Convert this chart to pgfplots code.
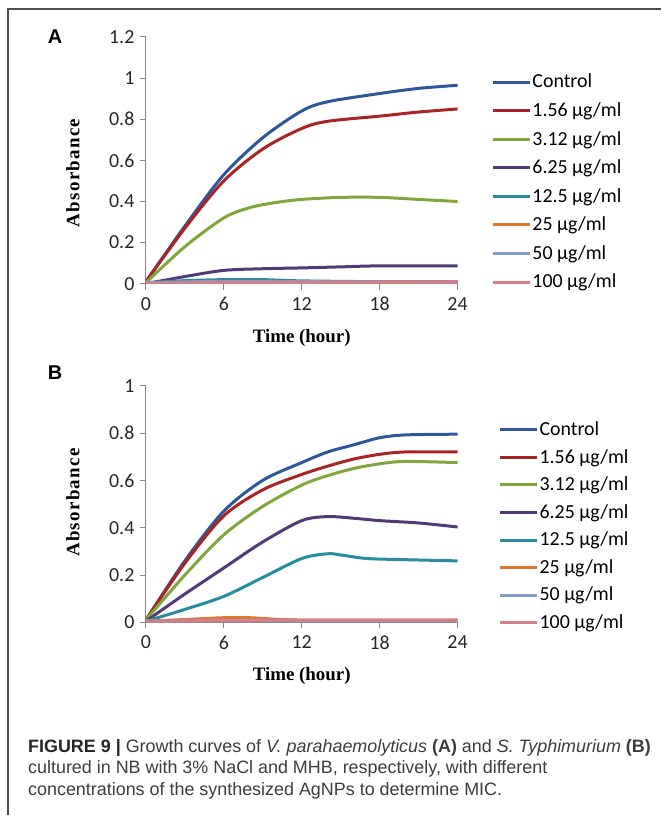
\documentclass[border=0pt]{standalone}
\usepackage{fontspec}
\setmainfont{Liberation Sans}
\newfontfamily\carlito{Carlito}
\newfontfamily\tnr{Liberation Serif}
\usepackage{pgfplots}
\pgfplotsset{compat=1.18}

\definecolor{cCtrl}{RGB}{44,87,154}
\definecolor{cA}{RGB}{170,36,38}
\definecolor{cB}{RGB}{128,166,60}
\definecolor{cC}{RGB}{80,58,120}
\definecolor{cD}{RGB}{40,140,160}
\definecolor{cE}{RGB}{228,118,40}
\definecolor{cF}{RGB}{130,155,205}
\definecolor{cG}{RGB}{215,125,135}
\definecolor{axisgray}{RGB}{134,134,134}
\definecolor{captxt}{RGB}{60,60,60}

\pgfplotsset{
  growth/.style={
    scale only axis,
    width=312bp,
    xmin=0, xmax=24, xtick={0,6,12,18,24},
    ymin=0,
    axis lines*=left,
    axis line style={draw=axisgray, line width=1bp},
    tick align=outside,
    major tick length=6bp,
    tick style={draw=axisgray, line width=1bp},
    ticklabel style={font=\carlito\fontsize{20}{22}\selectfont, text=black!85},
    xticklabel style={yshift=-4bp},
    yticklabel style={xshift=-2bp},
    /pgf/number format/assume math mode=true,
    xlabel={Time (hour)},
    ylabel={\addfontfeature{LetterSpace=7}Absorbance},
    label style={font=\tnr\bfseries\fontsize{19}{21}\selectfont},
    xlabel style={at={(axis description cs:0.5,0)}, anchor=center, yshift=-54bp},
    legend image code/.code={\draw[#1] (0bp,0bp) -- (37bp,0bp);},
    legend cell align=left,
    legend style={draw=none, fill=none, inner sep=0pt, anchor=north west,
      font=\carlito\fontsize{20}{22}\selectfont, row sep=0pt},
    every axis plot/.append style={line width=3bp, smooth, tension=0.5, no marks},
  }
}

\begin{document}
\begin{tikzpicture}
\path (0,0) rectangle (662bp,-816bp);
\draw[line width=1.5bp, black!70] (8bp,-816bp) -- (8bp,-9bp) -- (662bp,-9bp);

\node[font=\bfseries\fontsize{20}{22}\selectfont] at (55bp,-37bp) {A};
\node[font=\bfseries\fontsize{20}{22}\selectfont] at (55bp,-373bp) {B};

% panel A
\begin{axis}[growth,
  at={(146bp,-284bp)}, anchor=south west,
  height=247bp, ymax=1.2, ytick={0,0.2,...,1.2},
  ylabel style={at={(axis description cs:-0.234,0.449)}, anchor=center},
  legend style={at={(1.108,0.876)},
    nodes={inner sep=0pt, inner xsep=1bp, text height=20.2bp, text depth=8.4bp}},
]
\addplot[cCtrl] coordinates {(0,0.01) (3,0.28) (6,0.53) (9,0.71) (12,0.84) (14,0.885) (18,0.925) (21,0.95) (24,0.965)};
\addlegendentry{Control}
\addplot[cA] coordinates {(0,0.01) (3,0.27) (6,0.50) (9,0.655) (12,0.755) (14,0.79) (18,0.815) (21,0.835) (24,0.85)};
\addlegendentry{1.56 µg/ml}
\addplot[cB] coordinates {(0,0.005) (3,0.18) (6,0.32) (8,0.37) (10,0.395) (12,0.41) (15,0.42) (18,0.42) (21,0.41) (24,0.40)};
\addlegendentry{3.12 µg/ml}
\addplot[cC] coordinates {(0,0.0) (3,0.035) (6,0.065) (9,0.073) (12,0.077) (15,0.082) (18,0.087) (24,0.087)};
\addlegendentry{6.25 µg/ml}
\addplot[cD] coordinates {(0,0.005) (3,0.015) (6,0.02) (9,0.02) (12,0.014) (18,0.01) (24,0.01)};
\addlegendentry{12.5 µg/ml}
\addplot[cE] coordinates {(0,0.003) (6,0.008) (12,0.006) (24,0.006)};
\addlegendentry{25 µg/ml}
\addplot[cF] coordinates {(0,0.005) (6,0.012) (12,0.01) (24,0.008)};
\addlegendentry{50 µg/ml}
\addplot[cG] coordinates {(0,0.003) (6,0.006) (12,0.007) (24,0.01)};
\addlegendentry{100 µg/ml}
\end{axis}

% panel B
\begin{axis}[growth,
  at={(146bp,-623bp)}, anchor=south west,
  height=237bp, ymax=1, ytick={0,0.2,...,1},
  ylabel style={at={(axis description cs:-0.234,0.506)}, anchor=center},
  legend style={at={(1.131,0.873)},
    nodes={inner sep=0pt, inner xsep=1bp, text height=19.6bp, text depth=8.0bp}},
]
\addplot[cCtrl] coordinates {(0,0.01) (3,0.26) (6,0.47) (9,0.60) (12,0.675) (14,0.72) (16,0.75) (18,0.78) (20,0.792) (24,0.795)};
\addlegendentry{Control}
\addplot[cA] coordinates {(0,0.01) (3,0.25) (6,0.45) (9,0.56) (12,0.625) (14,0.66) (16,0.69) (18,0.71) (20,0.72) (24,0.72)};
\addlegendentry{1.56 µg/ml}
\addplot[cB] coordinates {(0,0.01) (3,0.20) (6,0.37) (9,0.49) (12,0.58) (14,0.62) (16,0.65) (18,0.67) (20,0.68) (24,0.675)};
\addlegendentry{3.12 µg/ml}
\addplot[cC] coordinates {(0,0.005) (3,0.12) (6,0.23) (9,0.34) (12,0.43) (14,0.447) (16,0.44) (18,0.43) (21,0.42) (24,0.403)};
\addlegendentry{6.25 µg/ml}
\addplot[cD] coordinates {(0,0.005) (3,0.055) (6,0.11) (9,0.19) (12,0.27) (14,0.29) (15,0.285) (17,0.27) (20,0.265) (24,0.26)};
\addlegendentry{12.5 µg/ml}
\addplot[cE] coordinates {(0,0.005) (4,0.015) (6,0.02) (8,0.02) (12,0.01) (24,0.01)};
\addlegendentry{25 µg/ml}
\addplot[cF] coordinates {(0,0.005) (6,0.01) (12,0.008) (24,0.008)};
\addlegendentry{50 µg/ml}
\addplot[cG] coordinates {(0,0.005) (6,0.008) (12,0.01) (24,0.01)};
\addlegendentry{100 µg/ml}
\end{axis}

% caption
\begin{scope}[every node/.style={anchor=base west, inner sep=0pt, text=captxt,
    font=\fontsize{18}{21}\selectfont}]
\node at (28bp,-753bp) {\textbf{\color{black!85}FIGURE 9 |} Growth curves of \textit{V. parahaemolyticus} \textbf{(A)} and \textit{S. Typhimurium} \textbf{(B)}};
\node at (28bp,-774.5bp) {cultured in NB with 3\% NaCl and MHB, respectively, with different};
\node at (28bp,-796bp) {concentrations of the synthesized AgNPs to determine MIC.};
\end{scope}
\end{tikzpicture}
\end{document}
